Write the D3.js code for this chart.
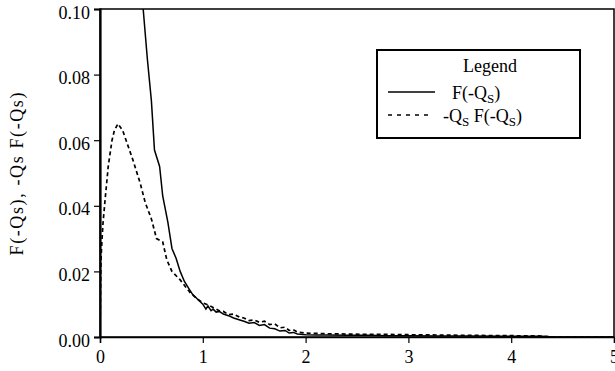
<!DOCTYPE html>
<html><head><meta charset="utf-8">
<script src="https://cdn.jsdelivr.net/npm/d3@7"></script>
<style>
html,body{margin:0;padding:0;background:#fff;}
svg{display:block;}
</style></head>
<body><svg id="chart" width="615" height="371"></svg>
<script>
// X positions (Qs) and series values
const xTicks = [0,1,2,3,4,5];
const yTicks = [0.00,0.02,0.04,0.06,0.08,0.10];
const solidX = [0.38,0.42,0.46,0.50,0.53,0.58,0.61,0.66,0.70,0.74,0.78,0.82,0.86,0.90,0.95,1.00,1.03,1.05,1.08,1.10,1.13,1.16,1.20,1.25,1.30,1.36,1.40,1.45,1.50,1.55,1.60,1.65,1.70,1.75,1.80,1.84,1.88,1.92,2.00,2.10,2.20,2.40,2.60,2.80,3.00,3.30,3.60,4.00,4.30,4.40,5.00];
const solidY = [0.115,0.100,0.085,0.072,0.057,0.052,0.043,0.035,0.027,0.024,0.020,0.017,0.015,0.013,0.0115,0.0100,0.0085,0.0095,0.0080,0.0085,0.0076,0.0078,0.0070,0.0065,0.0058,0.0052,0.0048,0.0042,0.0044,0.0035,0.0038,0.0027,0.0025,0.0018,0.0020,0.0012,0.0014,0.0009,0.0007,0.0006,0.0006,0.0005,0.0005,0.0004,0.0004,0.0003,0.0003,0.0002,0.0002,0.0,0.0];
const dashX = [0.00,0.005,0.01,0.02,0.03,0.05,0.08,0.117,0.14,0.175,0.22,0.27,0.32,0.36,0.39,0.44,0.50,0.55,0.61,0.65,0.70,0.78,0.88,0.95,1.00,1.05,1.10,1.16,1.20,1.25,1.30,1.36,1.40,1.45,1.50,1.55,1.60,1.65,1.70,1.75,1.80,1.84,1.88,1.92,2.00,2.10,2.20,2.40,2.60,2.80,3.00,3.30,3.60,4.00,4.30,4.40,5.00];
const dashY = [0.000,0.015,0.024,0.030,0.035,0.042,0.052,0.060,0.063,0.065,0.063,0.0585,0.054,0.050,0.047,0.041,0.036,0.030,0.029,0.0235,0.020,0.0174,0.0134,0.0115,0.0104,0.0098,0.0090,0.0080,0.0078,0.0068,0.0070,0.0060,0.0058,0.0050,0.0052,0.0045,0.0048,0.0038,0.0040,0.0028,0.0030,0.0020,0.0022,0.0015,0.0012,0.0011,0.0010,0.0009,0.0008,0.0008,0.0007,0.0006,0.0005,0.0004,0.0003,0.0,0.0];
const yLabel = "F(-Qs), -Qs F(-Qs)";

const FONT = "Liberation Serif";
const svg = d3.select("#chart");
const L = 100, R = 614, T = 9, B = 337;
const x = d3.scaleLinear().domain([0,5]).range([L,R]);
const y = d3.scaleLinear().domain([0,0.10]).range([B,T]);

svg.append("defs").append("clipPath").attr("id","clip")
  .append("rect").attr("x",L).attr("y",T).attr("width",R-L).attr("height",B-T);

// frame
svg.append("rect").attr("x",L).attr("y",T).attr("width",R-L).attr("height",B-T)
  .attr("fill","none").attr("stroke","#000").attr("stroke-width",1.5);

const xa = svg.append("g").attr("transform",`translate(0,${B})`)
  .call(d3.axisBottom(x).tickValues(xTicks).tickFormat(d3.format("d")).tickSize(6).tickPadding(7));
const ya = svg.append("g").attr("transform",`translate(${L},0)`)
  .call(d3.axisLeft(y).tickValues(yTicks).tickFormat(d3.format(".2f")).tickSize(6).tickPadding(4));
[xa,ya].forEach(g=>{
  g.attr("font-family",FONT).attr("font-size",18);
  g.select(".domain").attr("stroke","#000").attr("stroke-width",1.5);
  g.selectAll(".tick line").attr("stroke","#000").attr("stroke-width",1.2);
  g.selectAll("text").attr("font-family",FONT).attr("font-size",18).attr("fill","#000");
});
ya.selectAll("text").attr("dy","0.5em");
ya.select(".domain").attr("stroke-width",2.2);

const line = d3.line().x(d=>x(d[0])).y(d=>y(d[1]));
const plot = svg.append("g").attr("clip-path","url(#clip)");
plot.append("path").datum(d3.zip(solidX,solidY)).attr("d",line)
  .attr("fill","none").attr("stroke","#000").attr("stroke-width",1.5);
plot.append("path").datum(d3.zip(dashX,dashY)).attr("d",line)
  .attr("fill","none").attr("stroke","#000").attr("stroke-width",1.7).attr("stroke-dasharray","4,3");

// y label
svg.append("text").attr("transform","translate(23,174) rotate(-90)")
  .attr("text-anchor","middle").attr("font-family",FONT).attr("font-size",18)
  .attr("textLength",163).attr("lengthAdjust","spacing").text(yLabel);

// legend
const lg = svg.append("g").attr("font-family",FONT).attr("font-size",18);
lg.append("rect").attr("x",377).attr("y",50).attr("width",203).attr("height",88)
  .attr("fill","#fff").attr("stroke","#000").attr("stroke-width",2);
lg.append("text").attr("x",490).attr("y",72).attr("text-anchor","middle").text("Legend");
lg.append("line").attr("x1",388).attr("x2",435).attr("y1",92).attr("y2",92).attr("stroke","#000").attr("stroke-width",1.4);
lg.append("line").attr("x1",388).attr("x2",432).attr("y1",115).attr("y2",115).attr("stroke","#000").attr("stroke-width",1.6).attr("stroke-dasharray","4,5");
const t1 = lg.append("text").attr("x",452).attr("y",99);
t1.append("tspan").text("F(-Q");
t1.append("tspan").attr("font-size",13).attr("dy",4).text("S");
t1.append("tspan").attr("dy",-4).text(")");
const t2 = lg.append("text").attr("x",443).attr("y",122);
t2.append("tspan").text("-Q");
t2.append("tspan").attr("font-size",13).attr("dy",4).text("S");
t2.append("tspan").attr("dy",-4).text(" F(-Q");
t2.append("tspan").attr("font-size",13).attr("dy",4).text("S");
t2.append("tspan").attr("dy",-4).text(")");
</script></body></html>
